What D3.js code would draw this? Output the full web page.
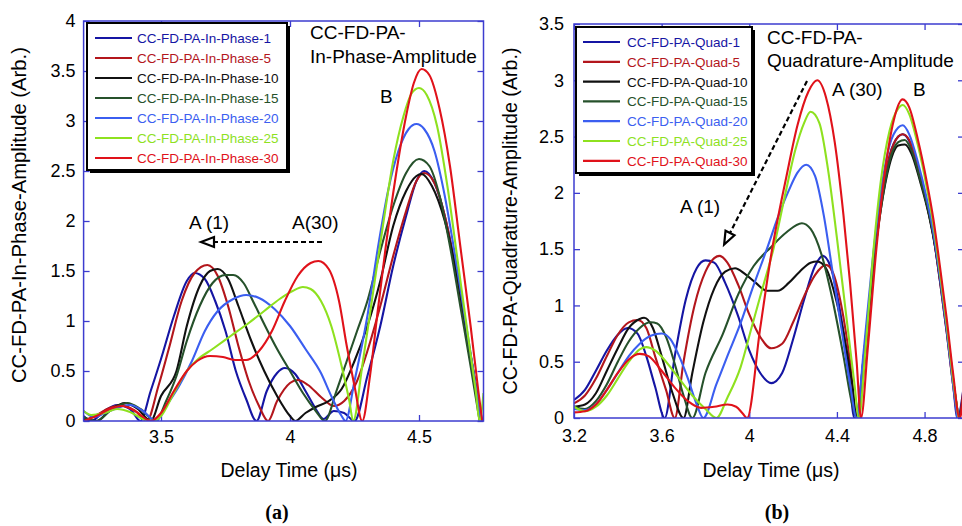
<!DOCTYPE html>
<html><head><meta charset="utf-8">
<script src="https://cdn.jsdelivr.net/npm/d3@7"></script>
<style>
body{margin:0;background:#fff}
svg{display:block}
text{font-family:"Liberation Sans",Arial,Helvetica,sans-serif}
</style>
</head><body>
<svg id="chart" width="962" height="526"></svg>
<script>
// ---------- data ----------
const seriesColors = ["#1515a3", "#b3161c", "#111111", "#26512b", "#3b5ef0", "#8ee11f", "#e0121a"];
const inPhaseNames = ["CC-FD-PA-In-Phase-1","CC-FD-PA-In-Phase-5","CC-FD-PA-In-Phase-10","CC-FD-PA-In-Phase-15","CC-FD-PA-In-Phase-20","CC-FD-PA-In-Phase-25","CC-FD-PA-In-Phase-30"];
const quadNames = ["CC-FD-PA-Quad-1","CC-FD-PA-Quad-5","CC-FD-PA-Quad-10","CC-FD-PA-Quad-15","CC-FD-PA-Quad-20","CC-FD-PA-Quad-25","CC-FD-PA-Quad-30"];

const xTicksA = [3.5, 4, 4.5];
const yTicksA = [0, 0.5, 1, 1.5, 2, 2.5, 3, 3.5, 4];
const xTicksB = [3.2, 3.6, 4, 4.4, 4.8];
const yTicksB = [0, 0.5, 1, 1.5, 2, 2.5, 3, 3.5];

// In-phase amplitude, [delay time (us), amplitude]
const inPhase1 = [[3.2,0.05],[3.23,0.0],[3.28,0.1],[3.33,0.16],[3.38,0.12],[3.42,0.0],[3.46,0.3],[3.5,0.62],[3.55,1.05],[3.6,1.4],[3.63,1.48],[3.67,1.42],[3.71,1.2],[3.75,0.9],[3.79,0.5],[3.83,0.22],[3.87,0.0],[3.91,0.3],[3.95,0.48],[3.98,0.53],[4.02,0.47],[4.06,0.3],[4.1,0.12],[4.13,0.02],[4.17,0.1],[4.21,0.08],[4.25,0.0],[4.3,0.45],[4.35,0.95],[4.4,1.55],[4.45,2.05],[4.49,2.4],[4.52,2.5],[4.56,2.38],[4.6,2.05],[4.64,1.55],[4.68,0.95],[4.72,0.35],[4.745,0.0]];
const inPhase5 = [[3.2,0.0],[3.25,0.06],[3.3,0.13],[3.35,0.16],[3.4,0.1],[3.445,0.0],[3.49,0.35],[3.53,0.72],[3.58,1.2],[3.63,1.48],[3.68,1.56],[3.72,1.45],[3.76,1.15],[3.8,0.75],[3.84,0.4],[3.88,0.15],[3.915,0.0],[3.95,0.2],[4.0,0.38],[4.03,0.41],[4.07,0.36],[4.12,0.24],[4.17,0.15],[4.21,0.2],[4.26,0.4],[4.3,0.7],[4.35,1.15],[4.4,1.65],[4.45,2.1],[4.49,2.4],[4.52,2.48],[4.56,2.38],[4.6,2.05],[4.64,1.55],[4.68,0.95],[4.72,0.35],[4.74,0.0]];
const inPhase10 = [[3.2,0.02],[3.25,0.0],[3.3,0.1],[3.36,0.18],[3.41,0.12],[3.46,0.0],[3.5,0.25],[3.56,0.5],[3.6,0.95],[3.65,1.35],[3.69,1.5],[3.72,1.52],[3.76,1.42],[3.8,1.15],[3.85,0.8],[3.9,0.5],[3.95,0.25],[4.0,0.05],[4.02,0.0],[4.06,0.08],[4.1,0.14],[4.15,0.2],[4.2,0.32],[4.25,0.6],[4.3,0.95],[4.35,1.4],[4.4,1.95],[4.45,2.3],[4.49,2.45],[4.51,2.47],[4.55,2.35],[4.6,2.0],[4.64,1.55],[4.68,0.95],[4.72,0.35],[4.74,0.0]];
const inPhase15 = [[3.2,0.04],[3.25,0.0],[3.31,0.12],[3.37,0.18],[3.42,0.12],[3.48,0.0],[3.52,0.2],[3.56,0.45],[3.6,0.8],[3.65,1.15],[3.7,1.38],[3.75,1.46],[3.78,1.46],[3.82,1.38],[3.86,1.18],[3.9,0.97],[3.95,0.72],[4.0,0.5],[4.05,0.28],[4.1,0.1],[4.135,0.0],[4.18,0.3],[4.22,0.6],[4.26,0.9],[4.3,1.2],[4.35,1.7],[4.4,2.15],[4.45,2.48],[4.5,2.62],[4.54,2.55],[4.58,2.25],[4.62,1.75],[4.66,1.15],[4.7,0.55],[4.735,0.0]];
const inPhase20 = [[3.2,0.1],[3.24,0.04],[3.3,0.1],[3.38,0.16],[3.43,0.1],[3.48,0.0],[3.52,0.15],[3.57,0.35],[3.62,0.6],[3.67,0.9],[3.72,1.1],[3.78,1.22],[3.83,1.26],[3.88,1.23],[3.94,1.12],[4.0,0.95],[4.06,0.72],[4.12,0.48],[4.16,0.25],[4.2,0.05],[4.215,0.0],[4.25,0.4],[4.3,1.05],[4.34,1.72],[4.38,2.3],[4.42,2.7],[4.46,2.92],[4.49,2.97],[4.52,2.92],[4.56,2.7],[4.6,2.25],[4.64,1.65],[4.68,1.0],[4.72,0.35],[4.74,0.0]];
const inPhase25 = [[3.2,0.1],[3.23,0.06],[3.28,0.08],[3.33,0.12],[3.38,0.09],[3.43,0.02],[3.47,0.0],[3.5,0.05],[3.55,0.28],[3.6,0.5],[3.64,0.61],[3.7,0.72],[3.77,0.85],[3.84,0.98],[3.9,1.1],[3.96,1.22],[4.01,1.3],[4.05,1.34],[4.08,1.32],[4.12,1.2],[4.16,0.95],[4.2,0.55],[4.23,0.2],[4.245,0.0],[4.28,0.55],[4.32,1.25],[4.36,1.95],[4.4,2.6],[4.44,3.05],[4.47,3.27],[4.5,3.33],[4.53,3.26],[4.57,2.95],[4.61,2.35],[4.65,1.6],[4.69,0.85],[4.72,0.3],[4.735,0.0],[4.75,0.28]];
const inPhase30 = [[3.2,0.0],[3.25,0.05],[3.3,0.12],[3.35,0.15],[3.4,0.1],[3.46,0.0],[3.5,0.08],[3.55,0.3],[3.6,0.5],[3.64,0.6],[3.69,0.65],[3.74,0.64],[3.79,0.61],[3.83,0.61],[3.88,0.7],[3.93,0.9],[3.98,1.2],[4.03,1.45],[4.08,1.58],[4.11,1.6],[4.15,1.52],[4.19,1.2],[4.22,0.75],[4.25,0.35],[4.28,0.0],[4.31,0.45],[4.34,1.1],[4.37,1.72],[4.41,2.45],[4.45,3.05],[4.48,3.38],[4.51,3.52],[4.54,3.46],[4.58,3.12],[4.62,2.55],[4.66,1.75],[4.7,0.95],[4.73,0.3],[4.745,0.0]];

// Quadrature amplitude, [delay time (us), amplitude]
const quad1 = [[3.2,0.16],[3.25,0.25],[3.3,0.42],[3.35,0.6],[3.4,0.74],[3.445,0.8],[3.49,0.75],[3.53,0.55],[3.57,0.28],[3.614,0.0],[3.66,0.55],[3.71,1.05],[3.76,1.33],[3.8,1.4],[3.84,1.38],[3.89,1.2],[3.95,0.9],[4.0,0.6],[4.05,0.4],[4.1,0.31],[4.15,0.4],[4.2,0.7],[4.25,1.05],[4.3,1.35],[4.335,1.44],[4.37,1.35],[4.41,1.0],[4.45,0.5],[4.48,0.0],[4.53,0.6],[4.565,1.35],[4.6,1.92],[4.64,2.33],[4.68,2.5],[4.7,2.52],[4.73,2.46],[4.77,2.22],[4.81,1.9],[4.84,1.62],[4.87,1.22],[4.9,0.78],[4.93,0.3],[4.95,0.0],[4.98,0.3]];
const quad5 = [[3.2,0.13],[3.25,0.2],[3.3,0.35],[3.35,0.55],[3.4,0.74],[3.45,0.85],[3.49,0.87],[3.53,0.8],[3.57,0.55],[3.62,0.25],[3.66,0.0],[3.7,0.5],[3.75,1.0],[3.8,1.3],[3.84,1.42],[3.865,1.44],[3.9,1.38],[3.95,1.18],[4.0,0.92],[4.05,0.72],[4.1,0.62],[4.15,0.66],[4.2,0.85],[4.25,1.08],[4.3,1.27],[4.35,1.36],[4.38,1.3],[4.42,1.0],[4.46,0.5],[4.49,0.0],[4.53,0.55],[4.565,1.35],[4.6,1.9],[4.64,2.32],[4.68,2.5],[4.7,2.52],[4.73,2.47],[4.77,2.22],[4.81,1.9],[4.84,1.62],[4.87,1.22],[4.9,0.78],[4.93,0.3],[4.955,0.0],[4.98,0.3]];
const quad10 = [[3.2,0.1],[3.25,0.12],[3.3,0.22],[3.35,0.42],[3.4,0.62],[3.45,0.8],[3.5,0.88],[3.52,0.89],[3.56,0.8],[3.6,0.55],[3.65,0.22],[3.7,0.0],[3.74,0.4],[3.79,0.85],[3.84,1.15],[3.89,1.3],[3.935,1.33],[3.98,1.28],[4.03,1.2],[4.08,1.13],[4.13,1.13],[4.18,1.2],[4.23,1.3],[4.28,1.38],[4.31,1.39],[4.35,1.33],[4.39,1.1],[4.43,0.75],[4.47,0.3],[4.49,0.0],[4.52,0.5],[4.56,1.25],[4.6,1.85],[4.64,2.25],[4.68,2.42],[4.71,2.43],[4.74,2.35],[4.78,2.1],[4.82,1.8],[4.85,1.5],[4.88,1.1],[4.91,0.65],[4.94,0.2],[4.955,0.0]];
const quad15 = [[3.2,0.1],[3.25,0.08],[3.3,0.15],[3.35,0.3],[3.4,0.5],[3.45,0.68],[3.5,0.8],[3.55,0.85],[3.58,0.84],[3.62,0.72],[3.66,0.48],[3.7,0.2],[3.74,0.0],[3.8,0.4],[3.88,0.75],[3.95,1.1],[4.02,1.35],[4.1,1.52],[4.17,1.65],[4.24,1.73],[4.28,1.68],[4.33,1.45],[4.38,1.05],[4.43,0.55],[4.47,0.12],[4.49,0.0],[4.52,0.5],[4.56,1.25],[4.6,1.85],[4.64,2.28],[4.68,2.45],[4.71,2.47],[4.74,2.38],[4.78,2.12],[4.82,1.82],[4.85,1.52],[4.88,1.12],[4.91,0.67],[4.94,0.2],[4.955,0.0]];
const quad20 = [[3.2,0.08],[3.25,0.07],[3.3,0.12],[3.35,0.25],[3.4,0.4],[3.45,0.55],[3.5,0.66],[3.55,0.73],[3.6,0.75],[3.64,0.7],[3.68,0.55],[3.72,0.35],[3.76,0.12],[3.79,0.0],[3.85,0.3],[3.9,0.55],[3.956,0.82],[4.02,1.18],[4.08,1.5],[4.13,1.78],[4.18,2.02],[4.22,2.18],[4.26,2.25],[4.3,2.15],[4.34,1.8],[4.38,1.3],[4.42,0.8],[4.46,0.3],[4.49,0.0],[4.52,0.55],[4.56,1.35],[4.6,2.0],[4.64,2.42],[4.68,2.58],[4.7,2.6],[4.73,2.52],[4.77,2.27],[4.81,1.95],[4.84,1.65],[4.87,1.25],[4.9,0.8],[4.93,0.3],[4.95,0.0]];
const quad25 = [[3.2,0.1],[3.25,0.06],[3.3,0.1],[3.35,0.2],[3.4,0.35],[3.45,0.5],[3.5,0.61],[3.53,0.63],[3.57,0.6],[3.62,0.5],[3.68,0.35],[3.74,0.2],[3.8,0.08],[3.85,0.0],[3.9,0.18],[3.96,0.45],[4.01,0.8],[4.06,1.15],[4.11,1.5],[4.16,1.95],[4.21,2.38],[4.25,2.62],[4.28,2.72],[4.32,2.62],[4.36,2.2],[4.4,1.6],[4.44,0.95],[4.48,0.3],[4.5,0.0],[4.53,0.6],[4.565,1.45],[4.6,2.1],[4.64,2.55],[4.68,2.75],[4.7,2.78],[4.73,2.7],[4.77,2.42],[4.81,2.05],[4.84,1.72],[4.87,1.3],[4.9,0.85],[4.93,0.35],[4.955,0.0]];
const quad30 = [[3.2,0.05],[3.25,0.06],[3.3,0.12],[3.35,0.25],[3.4,0.4],[3.45,0.52],[3.5,0.57],[3.54,0.55],[3.6,0.42],[3.66,0.27],[3.72,0.15],[3.78,0.09],[3.84,0.1],[3.9,0.12],[3.94,0.1],[3.97,0.04],[3.99,0.0],[4.05,0.8],[4.1,1.45],[4.17,2.15],[4.22,2.6],[4.27,2.9],[4.31,3.0],[4.35,2.85],[4.39,2.45],[4.43,1.8],[4.46,1.2],[4.49,0.5],[4.51,0.0],[4.54,0.6],[4.58,1.5],[4.62,2.2],[4.66,2.65],[4.7,2.83],[4.73,2.76],[4.77,2.47],[4.81,2.1],[4.84,1.77],[4.87,1.35],[4.9,0.9],[4.93,0.4],[4.96,0.0],[4.98,0.2]];

const inPhaseSeries = [inPhase1, inPhase5, inPhase10, inPhase15, inPhase20, inPhase25, inPhase30];
const quadSeries = [quad1, quad5, quad10, quad15, quad20, quad25, quad30];

// ---------- drawing ----------
const svg = d3.select("#chart");
const frameColor = "#3c3ccf";
const defs = svg.append("defs");

function drawPanel(cfg) {
  const x = d3.scaleLinear().domain(cfg.xDomain).range(cfg.xRange);
  const y = d3.scaleLinear().domain(cfg.yDomain).range(cfg.yRange);
  const g = svg.append("g");
  const [x0, x1] = cfg.xRange, [y0, y1] = cfg.yRange;

  defs.append("clipPath").attr("id", cfg.id + "-clip")
    .append("rect").attr("x", x0).attr("y", y1).attr("width", x1 - x0).attr("height", y0 - y1);

  // axes with inward ticks
  const styleAxis = sel => {
    sel.select(".domain").remove();
    sel.selectAll(".tick line").attr("stroke", frameColor).attr("stroke-width", 1.3);
    sel.selectAll("text").attr("fill", "#000").style("font-size", "18px")
      .style("font-family", "'Liberation Sans',Arial,sans-serif");
  };
  g.append("g").attr("transform", `translate(0,${y0})`)
    .call(d3.axisBottom(x).tickValues(cfg.xTicks).tickSize(-6).tickSizeOuter(0).tickPadding(cfg.xPad).tickFormat(d => String(d)))
    .call(styleAxis);
  g.append("g").attr("transform", `translate(0,${y1})`)
    .call(d3.axisTop(x).tickValues(cfg.xTicks).tickSize(-6).tickSizeOuter(0).tickFormat(""))
    .call(styleAxis);
  g.append("g").attr("transform", `translate(${x0},0)`)
    .call(d3.axisLeft(y).tickValues(cfg.yTicks).tickSize(-6).tickSizeOuter(0).tickPadding(cfg.yPad).tickFormat(d => String(d)))
    .call(styleAxis);
  g.append("g").attr("transform", `translate(${x1},0)`)
    .call(d3.axisRight(y).tickValues(cfg.yTicks).tickSize(-6).tickSizeOuter(0).tickFormat(""))
    .call(styleAxis);

  // curves
  const line = d3.line().x(d => x(d[0])).y(d => y(d[1])).curve(d3.curveMonotoneX);
  const cg = g.append("g").attr("clip-path", `url(#${cfg.id}-clip)`);
  cfg.series.forEach((s, i) => {
    cg.append("path").attr("d", line(s)).attr("fill", "none")
      .attr("stroke", seriesColors[i]).attr("stroke-width", 2.1).attr("stroke-linejoin", "round");
  });

  // frame
  g.append("rect").attr("x", x0).attr("y", y1).attr("width", x1 - x0).attr("height", y0 - y1)
    .attr("fill", "none").attr("stroke", frameColor).attr("stroke-width", 1.5);

  // legend
  const L = cfg.legend;
  g.append("rect").attr("x", L.x + 3).attr("y", L.y + 3).attr("width", L.w).attr("height", L.h).attr("fill", "#000");
  g.append("rect").attr("x", L.x).attr("y", L.y).attr("width", L.w).attr("height", L.h)
    .attr("fill", "#fff").attr("stroke", "#000").attr("stroke-width", 2);
  cfg.names.forEach((n, i) => {
    const yy = L.rowY + i * L.rowH;
    g.append("line").attr("x1", L.lineX1).attr("x2", L.lineX2).attr("y1", yy).attr("y2", yy)
      .attr("stroke", seriesColors[i]).attr("stroke-width", 2.2);
    g.append("text").attr("x", L.textX).attr("y", yy + 5).attr("fill", seriesColors[i])
      .style("font-size", L.fs + "px").text(n);
  });

  // axis titles
  g.append("text").attr("x", cfg.xTitle[0]).attr("y", cfg.xTitle[1]).attr("text-anchor", "middle")
    .style("font-size", "19.5px").text("Delay Time (\u03bcs)");
  g.append("text").attr("transform", `translate(${cfg.yTitle[0]},${cfg.yTitle[1]}) rotate(-90)`)
    .attr("text-anchor", "middle").attr("textLength", cfg.yTitle[2]).attr("lengthAdjust", "spacingAndGlyphs")
    .style("font-size", "19.5px").text(cfg.yTitleText);

  // caption
  g.append("text").attr("x", cfg.caption[0]).attr("y", cfg.caption[1]).attr("text-anchor", "middle")
    .style("font-family", "'Liberation Serif','Times New Roman',serif").style("font-weight", "bold")
    .style("font-size", "20px").text(cfg.captionText);

  // annotations
  cfg.notes.forEach(n => {
    g.append("text").attr("x", n[1]).attr("y", n[2]).style("font-size", "19px").text(n[0]);
  });

  // dashed arrow
  const a = cfg.arrow;
  g.append("line").attr("x1", a.from[0]).attr("y1", a.from[1]).attr("x2", a.to[0]).attr("y2", a.to[1])
    .attr("stroke", "#000").attr("stroke-width", 2.2).attr("stroke-dasharray", "5,3");
  const ang = Math.atan2(a.to[1] - a.from[1], a.to[0] - a.from[0]);
  const tip = [a.to[0] + Math.cos(ang) * 13, a.to[1] + Math.sin(ang) * 13];
  const px = -Math.sin(ang) * 5, py = Math.cos(ang) * 5;
  g.append("path")
    .attr("d", `M${tip[0]},${tip[1]}L${a.to[0] + px},${a.to[1] + py}L${a.to[0] - px},${a.to[1] - py}Z`)
    .attr("fill", "#fff").attr("stroke", "#000").attr("stroke-width", 2.2).attr("stroke-linejoin", "miter");
}

drawPanel({
  id: "pa", series: inPhaseSeries, names: inPhaseNames,
  xDomain: [3.2, 4.75], xRange: [83.6, 483.5], yDomain: [0, 4], yRange: [421, 21],
  xTicks: xTicksA, yTicks: yTicksA, xPad: 9, yPad: 8,
  legend: {x: 87, y: 23, w: 200, h: 147, rowY: 38, rowH: 20, lineX1: 95, lineX2: 132, textX: 137, fs: 13.5},
  xTitle: [289, 477], yTitle: [26, 215, 336], yTitleText: "CC-FD-PA-In-Phase-Amplitude (Arb.)",
  caption: [277, 519], captionText: "(a)",
  notes: [["CC-FD-PA-", 310, 39], ["In-Phase-Amplitude", 310, 63], ["B", 380, 103], ["A (1)", 189, 229], ["A(30)", 292, 229]],
  arrow: {from: [322, 242], to: [214, 242]}
});

drawPanel({
  id: "pb", series: quadSeries, names: quadNames,
  xDomain: [3.2, 4.98], xRange: [574, 964], yDomain: [0, 3.5], yRange: [418, 24],
  xTicks: xTicksB, yTicks: yTicksB, xPad: 11, yPad: 10,
  legend: {x: 576, y: 27, w: 176, h: 146, rowY: 42, rowH: 19.8, lineX1: 583, lineX2: 620, textX: 627, fs: 13.5},
  xTitle: [771, 477], yTitle: [517, 221, 347], yTitleText: "CC-FD-PA-Quadrature-Amplitude (Arb.)",
  caption: [777, 519], captionText: "(b)",
  notes: [["CC-FD-PA-", 767, 44], ["Quadrature-Amplitude", 767, 67], ["A (30)", 832, 96], ["B", 913, 96], ["A (1)", 680, 213]],
  arrow: {from: [807, 81], to: [730, 233]}
});
</script>
</body></html>
